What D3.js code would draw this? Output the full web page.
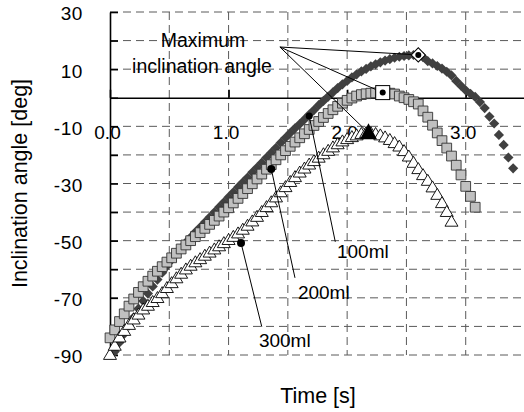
<!DOCTYPE html>
<html>
<head>
<meta charset="utf-8">
<script src="https://cdn.jsdelivr.net/npm/d3@7"></script>
<style>
  body { margin: 0; background: #fff; }
  svg { display: block; font-family: "Liberation Sans", Arial, sans-serif; }
</style>
</head>
<body>
<svg id="chart" width="524" height="412"></svg>
<script>
// sample times [s], shared by the three fillings
var times = [
  0.00,0.04,0.08,0.12,0.16,0.20,0.24,0.28,0.32,0.36,
  0.40,0.44,0.48,0.52,0.56,0.60,0.64,0.68,0.72,0.76,
  0.80,0.84,0.88,0.92,0.96,1.00,1.04,1.08,1.12,1.16,
  1.20,1.24,1.28,1.32,1.36,1.40,1.44,1.48,1.52,1.56,
  1.60,1.64,1.68,1.72,1.76,1.80,1.84,1.88,1.92,1.96,
  2.00,2.04,2.08,2.12,2.16,2.20,2.24,2.28,2.32,2.36,
  2.40,2.44,2.48,2.52,2.56,2.60,2.64,2.68,2.72,2.76,
  2.80,2.84,2.88,2.92,2.96,3.00,3.04,3.08,3.12,3.16,
  3.20,3.24,3.28,3.32,3.36,3.40
];

// inclination angle [deg], 100ml
var angle100 = [
  null,-88.8,-85.6,-82.6,-79.7,-76.8,-73.8,-71.1,-68.5,-66.0,
  -63.6,-61.2,-58.9,-56.7,-54.6,-52.6,-50.6,-48.8,-47.0,-45.3,
  -43.6,-41.8,-40.1,-38.3,-36.6,-34.8,-33.1,-31.3,-29.6,-27.9,
  -26.1,-24.4,-22.7,-20.9,-19.2,-17.5,-15.7,-14.0,-12.3,-10.7,
  -9.2,-7.6,-5.9,-4.3,-2.6,-1.1,0.4,1.9,3.4,4.7,
  5.9,7.1,8.2,9.2,10.1,11.0,11.7,12.4,13.0,13.5,
  14.0,14.35,14.6,14.8,14.95,15.0,14.2,12.8,12.0,11.1,
  10.2,9.1,7.8,5.9,4.2,2.6,1.4,0.3,-1.5,-3.6,
  -6.6,-9.0,-13.0,-16.5,-20.9,-24.7
];

// 200ml
var angle200 = [
  -84.0,-81.2,-78.3,-75.6,-72.9,-70.4,-68.1,-66.1,-64.2,-62.4,
  -60.7,-59.1,-57.5,-56.0,-54.4,-52.9,-51.5,-50.0,-48.6,-47.2,
  -45.7,-44.3,-42.9,-41.4,-40.0,-38.5,-36.8,-35.2,-33.5,-31.8,
  -30.1,-28.4,-26.7,-25.0,-23.4,-21.7,-20.0,-18.5,-17.0,-15.5,
  -14.0,-12.6,-11.1,-9.7,-8.3,-6.9,-5.5,-4.2,-3.0,-1.9,
  -0.9,-0.1,0.6,1.1,1.4,1.6,1.7,1.8,1.8,1.6,
  1.3,0.6,0.0,-0.6,-1.4,-2.2,-4.6,-6.8,-9.6,-12.3,
  -15.0,-17.6,-20.4,-23.6,-27.0,-31.0,-34.5,-38.3
];

// 300ml
var angle300 = [
  -90.0,-86.8,-83.9,-81.6,-79.5,-77.6,-75.9,-74.1,-72.8,-71.5,
  -70.1,-68.4,-66.6,-64.9,-63.2,-61.6,-60.1,-58.8,-57.6,-56.5,
  -55.3,-54.2,-53.1,-52.0,-50.9,-49.8,-48.7,-47.5,-46.2,-44.8,
  -43.3,-41.7,-40.0,-38.3,-36.6,-34.9,-33.1,-31.3,-29.5,-27.8,
  -26.2,-24.8,-23.4,-22.2,-21.0,-19.8,-18.6,-17.4,-16.3,-15.3,
  -14.5,-13.8,-13.2,-12.7,-12.4,-12.4,-12.7,-13.2,-13.9,-14.8,
  -15.9,-17.1,-18.7,-20.6,-22.8,-25.0,-27.1,-29.1,-31.4,-34.0,
  -36.9,-40.0,-43.4
];

// maximum inclination angle of each filling (100, 200, 300 ml)
var peakTime = [2.60, 2.30, 2.18];
var peakAngle = [15.0, 1.8, -12.3];

var labelNames = ["100ml", "200ml", "300ml"];
var yTickValues = [30, 10, -10, -30, -50, -70, -90];
var xTickValues = [0, 1, 2, 3];

var svg = d3.select("#chart");
var x = d3.scaleLinear().domain([0, 3.5]).range([110, 525]);
var y = d3.scaleLinear().domain([-90, 30]).range([355, 12]);

function pairs(arr) {
  var out = [];
  arr.forEach(function(a, i) {
    if (a !== null) out.push([times[i], a]);
  });
  return out;
}

// grid
var grid = svg.append("g").attr("stroke", "#5a5a5a").attr("stroke-width", 1)
  .attr("stroke-dasharray", "8,5").attr("fill", "none");
grid.selectAll(".gh")
  .data(d3.range(-90, 31, 10).filter(function(d) { return d !== 0; }))
  .enter().append("line")
  .attr("x1", x(0)).attr("x2", x(3.5))
  .attr("y1", function(d) { return y(d); })
  .attr("y2", function(d) { return y(d); });
grid.selectAll(".gv")
  .data([0.5, 1, 1.5, 2, 2.5, 3])
  .enter().append("line")
  .attr("x1", function(d) { return x(d); })
  .attr("x2", function(d) { return x(d); })
  .attr("y1", y(30)).attr("y2", y(-90));

// y axis line with inside ticks
var yAxis = svg.append("g").attr("transform", "translate(" + x(0) + ",0)")
  .call(d3.axisRight(y).tickValues(d3.range(-90, 31, 10)).tickSize(8)
    .tickSizeOuter(0).tickFormat(""));
yAxis.selectAll("path, line").attr("stroke", "#000").attr("stroke-width", 1.6);

var yLabels = svg.append("g").attr("transform", "translate(" + x(0) + ",0)")
  .call(d3.axisLeft(y).tickValues(yTickValues).tickSize(0).tickPadding(27)
    .tickFormat(function(d) { return String(d); }));
yLabels.select(".domain").remove();
yLabels.selectAll("text").attr("font-size", 19).attr("dy", "0.42em")
  .attr("letter-spacing", 0.6)
  .attr("font-family", "Liberation Sans, Arial, sans-serif").attr("fill", "#000");

// x axis on the zero line, ticks upward
var xAxis = svg.append("g").attr("transform", "translate(0," + y(0) + ")")
  .call(d3.axisTop(x).tickValues(xTickValues).tickSize(8).tickSizeOuter(0).tickFormat(""));
xAxis.selectAll("path, line").attr("stroke", "#000").attr("stroke-width", 1.6);

var xLabels = svg.append("g").attr("transform", "translate(0," + y(0) + ")")
  .call(d3.axisBottom(x).tickValues(xTickValues).tickSize(0).tickPadding(28)
    .tickFormat(d3.format(".1f")));
xLabels.select(".domain").remove();
xLabels.selectAll("text").attr("font-size", 19).attr("dx", -3)
  .attr("font-family", "Liberation Sans, Arial, sans-serif").attr("fill", "#000");

// axis titles
svg.append("text")
  .attr("transform", "translate(27," + y(-30) + ") rotate(-90)")
  .attr("text-anchor", "middle").attr("font-size", 21.5)
  .text("Inclination angle [deg]");
svg.append("text")
  .attr("x", 318).attr("y", 403)
  .attr("text-anchor", "middle").attr("font-size", 21.5)
  .text("Time [s]");

// series
var diamond = d3.symbol().type(d3.symbolSquare).size(52);
svg.append("g").selectAll("path")
  .data(pairs(angle100))
  .enter().append("path")
  .attr("d", diamond)
  .attr("transform", function(d) {
    return "translate(" + x(d[0]) + "," + y(d[1]) + ") rotate(45)";
  })
  .attr("fill", "#404040");

var square = d3.symbol().type(d3.symbolSquare).size(95);
svg.append("g").selectAll("path")
  .data(pairs(angle200))
  .enter().append("path")
  .attr("d", square)
  .attr("transform", function(d) {
    return "translate(" + x(d[0]) + "," + y(d[1]) + ")";
  })
  .attr("fill", "#c0c0c0").attr("stroke", "#333").attr("stroke-width", 0.9);

function triPath(w, h) {
  var p = d3.path();
  p.moveTo(0, -h * 0.6);
  p.lineTo(w / 2, h * 0.4);
  p.lineTo(-w / 2, h * 0.4);
  p.closePath();
  return p.toString();
}
svg.append("g").selectAll("path")
  .data(pairs(angle300))
  .enter().append("path")
  .attr("d", triPath(13, 11))
  .attr("transform", function(d) {
    return "translate(" + x(d[0]) + "," + y(d[1]) + ")";
  })
  .attr("fill", "#fff").attr("stroke", "#000").attr("stroke-width", 0.9);

// "Maximum inclination angle" annotation
var anchor = [x(1.433), y(17.75)];
svg.append("g").selectAll("line")
  .data(peakTime)
  .enter().append("line")
  .attr("x1", anchor[0]).attr("y1", anchor[1])
  .attr("x2", function(d) { return x(d); })
  .attr("y2", function(d, i) { return y(peakAngle[i]); })
  .attr("stroke", "#000").attr("stroke-width", 1);

svg.append("text").attr("x", 203).attr("y", 47)
  .attr("text-anchor", "middle").attr("font-size", 19.5).text("Maximum");
svg.append("text").attr("x", 202).attr("y", 73)
  .attr("text-anchor", "middle").attr("font-size", 19.5).text("inclination angle");

// peak markers
var px = function(i) { return x(peakTime[i]); };
var py = function(i) { return y(peakAngle[i]); };
svg.append("path")
  .attr("d", d3.symbol().type(d3.symbolSquare).size(100)())
  .attr("transform", "translate(" + px(0) + "," + py(0) + ") rotate(45)")
  .attr("fill", "#fff").attr("stroke", "#000").attr("stroke-width", 1);
svg.append("rect")
  .attr("x", px(1) - 7).attr("y", py(1) - 7).attr("width", 14).attr("height", 14)
  .attr("fill", "#fff").attr("stroke", "#000").attr("stroke-width", 1);
svg.append("path")
  .attr("d", triPath(17, 16))
  .attr("transform", "translate(" + px(2) + "," + py(2) + ")")
  .attr("fill", "#000");
[0, 1].forEach(function(i) {
  svg.append("circle").attr("cx", px(i)).attr("cy", py(i)).attr("r", 3).attr("fill", "#000");
});

// filling labels with leader lines
var labelDot = [[1.68, -6.4], [1.36, -24.9], [1.105, -50.8]];
var labelEnd = [[1.90, -50.4], [1.56, -63.0], [1.28, -80.1]];
var labelPos = [[1.914, -56.1], [1.585, -70.4], [1.256, -87.2]];
labelNames.forEach(function(name, i) {
  svg.append("line")
    .attr("x1", x(labelDot[i][0])).attr("y1", y(labelDot[i][1]))
    .attr("x2", x(labelEnd[i][0])).attr("y2", y(labelEnd[i][1]))
    .attr("stroke", "#000").attr("stroke-width", 1);
  svg.append("circle")
    .attr("cx", x(labelDot[i][0])).attr("cy", y(labelDot[i][1]))
    .attr("r", i === 0 ? 3.5 : 4).attr("fill", "#000");
  svg.append("text")
    .attr("x", x(labelPos[i][0])).attr("y", y(labelPos[i][1]))
    .attr("font-size", 19).text(name);
});
</script>
</body>
</html>
